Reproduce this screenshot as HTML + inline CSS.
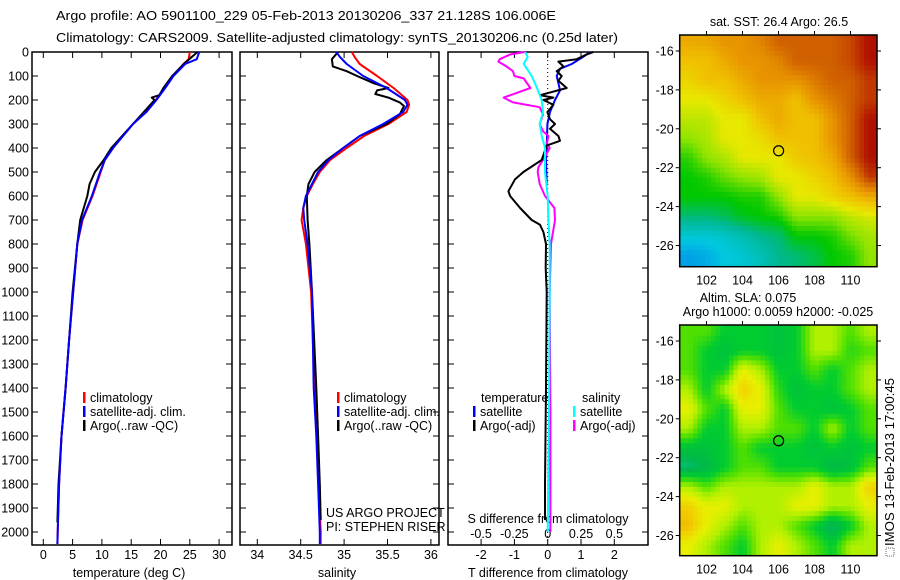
<!DOCTYPE html>
<html><head><meta charset="utf-8"><style>
html,body{margin:0;padding:0;background:#fff;width:900px;height:580px;overflow:hidden}
svg{display:block;font-family:"Liberation Sans",sans-serif}
text{font-size:12.5px;fill:#000}
</style></head><body>
<svg id="fig" width="900" height="580" viewBox="0 0 900 580" xmlns="http://www.w3.org/2000/svg">
<text x="56" y="20" textLength="500" lengthAdjust="spacingAndGlyphs">Argo profile: AO 5901100_229 05-Feb-2013 20130206_337 21.128S 106.006E</text>
<text x="56" y="42" textLength="562" lengthAdjust="spacingAndGlyphs">Climatology: CARS2009. Satellite-adjusted climatology: synTS_20130206.nc (0.25d later)</text>
<g id="m1"></g>
<g id="m2"></g>
<g id="p1"></g>
<g id="p2"></g>
<g id="p3"></g>
<text transform="translate(894,546) rotate(-90)" textLength="168" lengthAdjust="spacingAndGlyphs">IMOS 13-Feb-2013 17:00:45</text>
<rect x="886" y="548" width="8" height="8" fill="none" stroke="#666" stroke-width="1" stroke-dasharray="1,1"/>
</svg>
<script>
// ---------- data ----------
const depthTicks=[0,100,200,300,400,500,600,700,800,900,1000,1100,1200,1300,1400,1500,1600,1700,1800,1900,2000];
const tempTicks=[0,5,10,15,20,25,30];
const salTicks=[34,34.5,35,35.5,36];
const tdiffTicks=[-2,-1,0,1,2];
const sdiffTicks=[-0.5,-0.25,0,0.25,0.5];
const sdiffTickLabels=["-0.5","-0.25","0","0.25","0.5"];

const tClimDepth=[0,30,50,100,150,200,250,300,400,450,500,600,700,800,1000,1200,1400,1600,1800,2000,2050];
const tClim=[25.0,24.8,23.9,22.1,20.7,19.2,17.5,15.3,11.9,10.5,9.8,8.4,6.7,5.8,5.1,4.4,3.8,3.1,2.7,2.45,2.4];
const tSat=[26.6,26.2,24.2,22.2,20.8,19.3,17.6,15.3,11.9,10.5,9.7,8.3,6.6,5.8,5.1,4.4,3.8,3.1,2.7,2.45,2.4];
const tArgoDepth=[0,50,100,150,180,190,200,300,400,450,500,550,600,700,800,1000,1200,1400,1600,1800,1960];
const tArgo=[26.3,24.0,22.0,20.5,19.8,18.5,19.0,15.3,11.6,10.3,8.8,7.9,7.5,6.3,5.8,5.0,4.4,3.8,3.1,2.6,2.4];

const sDepth=[0,20,50,100,150,200,220,250,300,350,400,450,500,550,600,650,700,800,1000,1400,1600,1800,2000,2050];
const sClim=[35.09,35.12,35.18,35.38,35.57,35.73,35.75,35.72,35.51,35.23,35.03,34.84,34.72,34.64,34.57,34.53,34.51,34.56,34.62,34.66,34.69,34.71,34.73,34.73];
const sSat=[34.91,34.95,35.03,35.22,35.49,35.70,35.73,35.68,35.45,35.18,34.99,34.82,34.70,34.63,34.56,34.53,34.54,34.58,34.63,34.65,34.68,34.70,34.72,34.72];
const sArgoDepth=[0,30,60,80,100,130,150,160,175,190,210,225,260,300,350,400,450,500,550,600,700,800,1000,1400,1600,1800,1950];
const sArgo=[34.93,34.86,34.87,35.03,35.15,35.34,35.51,35.38,35.36,35.51,35.64,35.69,35.64,35.49,35.18,34.99,34.80,34.66,34.59,34.57,34.58,34.60,34.63,34.68,34.70,34.72,34.73];

const dtSatDepth=[0,20,50,70,100,130,160,200,250,300,400,450,550];
const dtSat=[1.27,1.07,0.72,0.37,0.27,0.32,0.37,0.22,0.07,-0.01,-0.03,-0.05,-0.03];
const dtArgoDepth=[0,10,30,40,60,80,100,120,150,180,190,200,220,250,280,300,320,350,370,390,450,500,530,580,600,650,700,720,750,800,900,1000,1400,1800,1950];
const dtArgo=[1.37,1.17,0.87,0.32,0.47,0.27,0.42,0.32,0.57,-0.23,0.17,-0.13,0.17,-0.01,0.07,0.22,0.07,0.32,0.37,-0.03,-0.18,-0.73,-0.98,-1.18,-1.13,-0.83,-0.48,-0.23,-0.13,-0.05,-0.06,-0.03,-0.05,-0.08,-0.08];
const dsSatDepth=[0,20,50,100,150,200,250,300,350,400,500,600,700,800,1000,1500,2000];
const dsSat=[-0.17,-0.15,-0.18,-0.12,-0.08,-0.045,-0.035,-0.06,-0.045,-0.02,-0.02,0,0.005,0.015,0.015,0.01,0.0];
const dsArgoDepth=[0,10,30,40,60,80,100,110,150,170,190,210,230,260,300,330,350,380,400,450,480,500,550,600,650,700,750,800,1000,1500,2000];
const dsArgo=[-0.17,-0.28,-0.36,-0.37,-0.31,-0.26,-0.25,-0.18,-0.13,-0.23,-0.33,-0.26,-0.06,-0.035,-0.06,-0.035,0.005,-0.005,0.015,-0.035,-0.07,-0.075,-0.06,-0.02,0.05,0.055,0.04,0.025,0.015,0.02,0.02];

const mapLons=[101,102,103,104,105,106,107,108,109,110,111];
const mapLats=[-15.5,-16.5,-17.5,-18.5,-19.5,-20.5,-21.5,-22.5,-23.5,-24.5,-25.5,-26.5];
const sstGrid=[
[7.5,7.6,8,8,8.3,9,9,9,9,9.3,10],
[7,7,7.5,8,8,8.3,9,9,9,9.3,10],
[6.5,7,7,7.5,8,8,8,8.5,9,9,9.5],
[6,6,6.5,7,7.5,7.5,7,8,8.5,9,9.5],
[5.5,5.5,6,6,7,7.5,7,7,8,9,10],
[5,5.3,6,6,6.3,7,7,7,8,9,10],
[4.3,5,5.3,6,6,6,6.8,7,7.5,9,10],
[4,4.2,4.7,5,5.2,6,6,6.5,7,8,9.5],
[4,4,4,4.2,4.2,5,6,6,6.5,7,7.5],
[3.2,3.2,3.4,3.8,4,4.2,5,5,5,5.5,5.8],
[2.2,2.2,2.3,2.6,3,3.2,4,4,4.2,4.8,5.2],
[1.3,1.5,2,2.2,2.5,3,3.2,3.5,4,4.2,5]];
const slaGrid=[
[3,3,2,2,2,1.5,2,4,4,3,4],
[3,2,1.5,2,2,1.5,2,4,4,2.5,3],
[3,2,2,5,4,2,2,3,2,3,4],
[4,2,4,6,5,2.5,1.5,2,2,3,4],
[5,3,2,5,5,3,2,2,1.5,2,3],
[4,2,2,4,4,3,3,2,4,2,3],
[1.5,1.5,2,3,2,2,2,1.5,2,1.5,2],
[0.5,1,2,3,3,2,2,2,1,1.5,3],
[4,3,4,4,4,4,4,5,4,4,6],
[6,5,5,4,4,4,5,5,4,4,5],
[6.5,5,4,3,4,4,3,2,0.5,2,4],
[5,4,3,2,4,5,4,3,2,4,4]];
const mapLonTicks=[102,104,106,108,110];
const mapLatTicks=[-16,-18,-20,-22,-24,-26];
const argoLon=106.006, argoLat=-21.128;

// ---------- helpers ----------
const NS="http://www.w3.org/2000/svg";
function mk(tag,attrs,parent){const e=document.createElementNS(NS,tag);for(const k in attrs)e.setAttribute(k,attrs[k]);parent.appendChild(e);return e;}
const TOP=52,BOT=545;
const yD=d=>TOP+0.24*d;
const xT=t=>43.3+5.86*t;
const xS=s=>257.3+86.8*(s-34);
const xDT=t=>547.7+33.3*t;
const xDS=s=>547.7+133.3*s;

function frame(g,x0,x1,name){
  const r=mk('rect',{x:x0,y:TOP,width:x1-x0,height:BOT-TOP,fill:'none',stroke:'#000','stroke-width':1.5},g);
  
  
  depthTicks.forEach(d=>{
    mk('line',{x1:x0,x2:x0+6,y1:yD(d),y2:yD(d),stroke:'#000'},g);
    mk('line',{x1:x1-6,x2:x1,y1:yD(d),y2:yD(d),stroke:'#000'},g);
  });
}
function xticks(g,vals,fx,labels,ly,name){
  vals.forEach((v,i)=>{
    const x=fx(v);
    mk('line',{x1:x,x2:x,y1:TOP,y2:TOP+6,stroke:'#000'},g);
    mk('line',{x1:x,x2:x,y1:BOT-6,y2:BOT,stroke:'#000'},g);
    if(ly){const t=mk('text',{x:x,y:ly,'text-anchor':'middle'},g);t.textContent=labels?labels[i]:String(v);
      
      }
  });
}
function line(g,xs,ds,fx,color,name,w){
  const pts=xs.map((v,i)=>fx(v).toFixed(1)+','+yD(ds[i]).toFixed(1)).join(' ');
  const p=mk('polyline',{points:pts,fill:'none',stroke:color,'stroke-width':w||2,'stroke-linejoin':'round'},g);
  
  
}
function legend(g,x,y,color,label,name){
  mk('rect',{x:x,y:y-10,width:2.5,height:11,fill:color},g);
  const t=mk('text',{x:x+7,y:y},g);t.textContent=label;
  
  
}
function txt(g,x,y,s,anchor,name){const t=mk('text',{x:x,y:y,'text-anchor':anchor||'start'},g);t.textContent=s;
  
  return t;}

// ---------- panel 1 ----------
const p1=document.getElementById('p1');
frame(p1,32,232,'temperature-axes');
depthTicks.forEach(d=>{const t=mk('text',{x:29,y:yD(d)+4.5,'text-anchor':'end'},p1);t.textContent=String(d);
  
  });
xticks(p1,tempTicks,xT,null,559,'temperature-tick-label');
txt(p1,129,577,'temperature (deg C)','middle','temperature-axis-title');
line(p1,tClim,tClimDepth,xT,'#ff0000','temperature-climatology-line');
line(p1,tArgo,tArgoDepth,xT,'#000000','temperature-argo-line');
line(p1,tSat,tClimDepth,xT,'#0000ff','temperature-satellite-line');
legend(p1,83,402,'#ff0000','climatology','legend-climatology');
legend(p1,83,416,'#0000ff','satellite-adj. clim.','legend-satellite');
legend(p1,83,430,'#000000','Argo(..raw -QC)','legend-argo');

// ---------- panel 2 ----------
const p2=document.getElementById('p2');
frame(p2,240,439,'salinity-axes');
xticks(p2,salTicks,xS,null,559,'salinity-tick-label');
txt(p2,337,577,'salinity','middle','salinity-axis-title');
line(p2,sClim,sDepth,xS,'#ff0000','salinity-climatology-line');
line(p2,sArgo,sArgoDepth,xS,'#000000','salinity-argo-line');
line(p2,sSat,sDepth,xS,'#0000ff','salinity-satellite-line');
legend(p2,337,402,'#ff0000','climatology','legend-climatology');
legend(p2,337,416,'#0000ff','satellite-adj. clim.','legend-satellite');
legend(p2,337,430,'#000000','Argo(..raw -QC)','legend-argo');
txt(p2,326,517,'US ARGO PROJECT','start','project-label');
txt(p2,326,531,'PI: STEPHEN RISER','start','pi-label');

// ---------- panel 3 ----------
const p3=document.getElementById('p3');
frame(p3,448,648,'difference-axes');
mk('line',{x1:547.7,x2:547.7,y1:TOP,y2:BOT,stroke:'#000','stroke-dasharray':'1,3'},p3);
xticks(p3,tdiffTicks,xDT,null,559,'tdiff-tick-label');
sdiffTicks.forEach((v,i)=>{const t=mk('text',{x:xDS(v),y:538,'text-anchor':'middle'},p3);t.textContent=sdiffTickLabels[i];
  
  });
txt(p3,548,523,'S difference from climatology','middle','sdiff-axis-title');
txt(p3,548,577,'T difference from climatology','middle','tdiff-axis-title');
line(p3,dtSat,dtSatDepth,xDT,'#0000ff','tdiff-satellite-line');
line(p3,dsArgo,dsArgoDepth,xDS,'#ff00ff','sdiff-argo-line');
line(p3,dtArgo,dtArgoDepth,xDT,'#000000','tdiff-argo-line');
line(p3,dsSat,dsSatDepth,xDS,'#00ffff','sdiff-satellite-line');
txt(p3,481,402,'temperature','start','legend-temperature-heading');
txt(p3,582,402,'salinity','start','legend-salinity-heading');
legend(p3,473,416,'#0000ff','satellite','legend-t-satellite');
legend(p3,473,430,'#000000','Argo(-adj)','legend-t-argo');
legend(p3,573,416,'#00ffff','satellite','legend-s-satellite');
legend(p3,573,430,'#ff00ff','Argo(-adj)','legend-s-argo');

// ---------- maps ----------
const sstColors=['#0030c0','#0090e8','#00c8e0','#00b890','#00c800','#90e400','#e8e800','#f0c000','#e89400','#d06000','#b01000'];
const slaColors=['#00c8a0','#00b848','#00cc30','#50e000','#b0f000','#e8f000','#f0d000','#f0a800'];
function hex(c){return [1,3,5].map(i=>parseInt(c.substr(i,2),16));}
function ramp(colors,v){
  v=Math.max(0,Math.min(colors.length-1,v));
  const i=Math.min(colors.length-2,Math.floor(v)),f=v-i;
  const a=hex(colors[i]),b=hex(colors[i+1]);
  return 'rgb('+a.map((x,k)=>Math.round(x+(b[k]-x)*f)).join(',')+')';
}
function sample(grid,lon,lat){
  // bilinear interpolation between cell centres
  let cf=(lon-mapLons[0]); let rf=(mapLats[0]-lat);
  cf=Math.max(0,Math.min(mapLons.length-1,cf)); rf=Math.max(0,Math.min(mapLats.length-1,rf));
  const c0=Math.min(mapLons.length-2,Math.floor(cf)), r0=Math.min(mapLats.length-2,Math.floor(rf));
  const fx=cf-c0, fy=rf-r0;
  return grid[r0][c0]*(1-fx)*(1-fy)+grid[r0][c0+1]*fx*(1-fy)+grid[r0+1][c0]*(1-fx)*fy+grid[r0+1][c0+1]*fx*fy;
}
function map(id,top,bot,grid,colors,name,title1,title2){
  const g=document.getElementById(id);
  const L=679.7,R=877;
  const xL=lon=>706.5+18*(lon-102);
  const yL=lat=>top+16+19.45*(-16-lat);
  const step=0.25;
  for(let lat=-15.125;lat>-27.2;lat-=step){
    for(let lon=100.625;lon<111.5;lon+=step){
      const v=sample(grid,lon,lat);
      const x0=Math.max(L,xL(lon-step/2)), x1=Math.min(R,xL(lon+step/2));
      const y0=Math.max(top,yL(lat+step/2)), y1=Math.min(bot,yL(lat-step/2));
      if(x1<=x0||y1<=y0) continue;
      const e=mk('rect',{x:x0.toFixed(2),y:y0.toFixed(2),width:(x1-x0+0.4).toFixed(2),height:(y1-y0+0.4).toFixed(2),fill:ramp(colors,v)},g);
      
      
    }
  }
  mk('rect',{x:L,y:top,width:R-L,height:bot-top,fill:'none',stroke:'#000','stroke-width':1.5},g);
  mapLonTicks.forEach(lon=>{
    mk('line',{x1:xL(lon),x2:xL(lon),y1:top-4,y2:top,stroke:'#000'},g);
    const t=mk('text',{x:xL(lon),y:bot+18,'text-anchor':'middle'},g);t.textContent=String(lon);
    
    
  });
  mapLatTicks.forEach(lat=>{
    mk('line',{x1:L-4,x2:L,y1:yL(lat),y2:yL(lat),stroke:'#000'},g);
    mk('line',{x1:R,x2:R+4,y1:yL(lat),y2:yL(lat),stroke:'#000'},g);
    const t=mk('text',{x:L-6,y:yL(lat)+4.5,'text-anchor':'end'},g);t.textContent=String(lat);
    
    
  });
  const c=mk('circle',{cx:xL(argoLon),cy:yL(argoLat),r:5,fill:'none',stroke:'#000','stroke-width':1.2},g);
  
  
  if(title1) txt(g,title1[1],title1[2],title1[0],'middle',name+'-title');
  if(title2) txt(g,title2[1],title2[2],title2[0],'middle',name+'-subtitle');
}
map('m1',35,266.7,sstGrid,sstColors,'sst-map',['sat. SST: 26.4  Argo: 26.5',779,26],null);
map('m2',325,555.7,slaGrid,slaColors,'sla-map',['Altim. SLA: 0.075',748,302],['Argo h1000: 0.0059 h2000: -0.025',778,316]);
</script>
</body></html>
